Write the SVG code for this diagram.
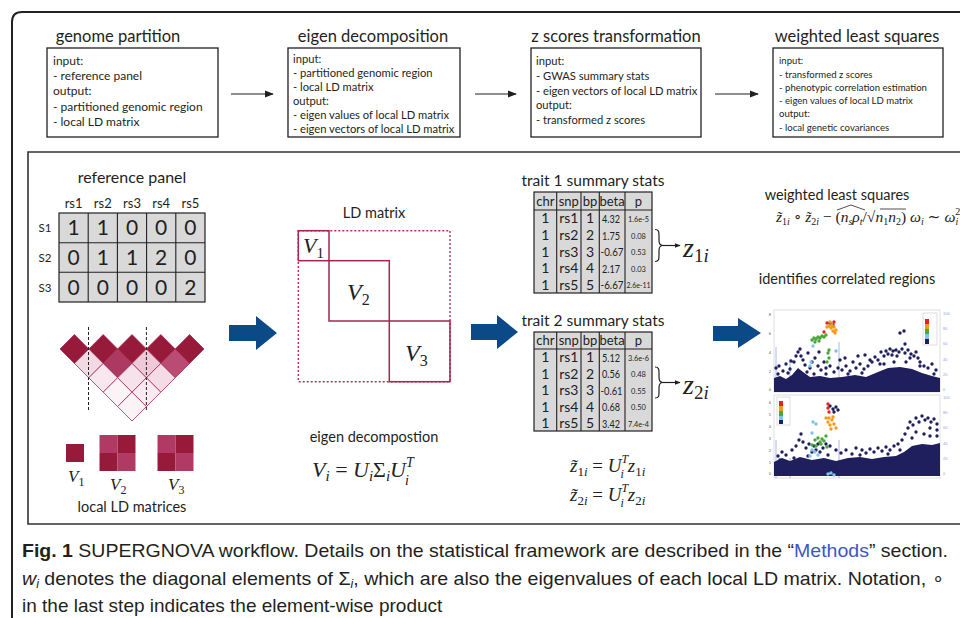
<svg xmlns="http://www.w3.org/2000/svg" width="960" height="618" viewBox="0 0 960 618">
<style>
.t{font-family:Lato,"Open Sans",sans-serif;fill:#231f20}
.m{font-family:"Liberation Serif","DejaVu Serif",serif;font-style:italic;fill:#222}
.n{font-style:normal}
.box{fill:#fff;stroke:#231f20;stroke-width:1.3}
.ln{stroke:#231f20;stroke-width:1.2;fill:none}
.big{fill:#0b4a87}
.dk{fill:#971a3b}
.di{stroke:#a3284f;stroke-width:0.8}
.vb{fill:none;stroke:#a8254e;stroke-width:1.5}
.tb{fill:#d9d9d9;stroke:#231f20;stroke-width:1.2}
.gl{stroke:#231f20;stroke-width:1.1}
.ax{font-family:"Liberation Sans",sans-serif;font-size:4px;fill:#555}
.axb{font-family:"Liberation Sans",sans-serif;font-size:4px;fill:#8fa3dc}
.cap{font-family:"Liberation Sans",Arial,sans-serif;font-size:19px;fill:#231f20}
</style>
<defs>
<marker id="ah" viewBox="0 0 10 10" refX="9" refY="5" markerWidth="9" markerHeight="9" markerUnits="userSpaceOnUse" orient="auto"><path d="M0,1 L10,5 L0,9 Z" fill="#231f20"/></marker>
<marker id="ah2" viewBox="0 0 10 10" refX="9" refY="5" markerWidth="6" markerHeight="6" markerUnits="userSpaceOnUse" orient="auto"><path d="M0,1 L10,5 L0,9 Z" fill="#231f20"/></marker>
</defs>
<rect width="960" height="618" fill="#fff"/>
<!-- frames -->
<path d="M12,618 L12,22 Q12,12 22,12 L960,12" fill="none" stroke="#222" stroke-width="2"/>
<path d="M960,152 L28,152 L28,524 L960,524" fill="none" stroke="#333" stroke-width="1.6"/>

<!-- top row nodes -->
<g id="genome-partition">
<text class="t" x="118" y="42" font-size="16.5" text-anchor="middle">genome partition</text>
<rect class="box" x="47" y="48" width="171" height="89"/>
<text class="t" font-size="12"><tspan x="53" y="65">input:</tspan><tspan x="53" y="80">- reference panel</tspan><tspan x="53" y="95">output:</tspan><tspan x="53" y="111">- partitioned genomic region</tspan><tspan x="53" y="126">- local LD matrix</tspan></text>
</g>
<g id="eigen-decomposition">
<text class="t" x="373" y="42" font-size="16.5" text-anchor="middle">eigen decomposition</text>
<rect class="box" x="288" y="48" width="172" height="89"/>
<text class="t" font-size="11.2"><tspan x="293" y="62.5">input:</tspan><tspan x="293" y="76.5">- partitioned genomic region</tspan><tspan x="293" y="90.5">- local LD matrix</tspan><tspan x="293" y="104.5">output:</tspan><tspan x="293" y="118.5">- eigen values of local LD matrix</tspan><tspan x="293" y="132.5">- eigen vectors of local LD matrix</tspan></text>
</g>
<g id="z-scores-transformation">
<text class="t" x="616" y="42" font-size="16.5" text-anchor="middle">z scores transformation</text>
<rect class="box" x="531" y="48" width="170" height="89"/>
<text class="t" font-size="11.2"><tspan x="536" y="65">input:</tspan><tspan x="536" y="80">- GWAS summary stats</tspan><tspan x="536" y="95">- eigen vectors of local LD matrix</tspan><tspan x="536" y="109">output:</tspan><tspan x="536" y="124">- transformed z scores</tspan></text>
</g>
<g id="weighted-least-squares">
<text class="t" x="857" y="42" font-size="16.5" text-anchor="middle">weighted least squares</text>
<rect class="box" x="773" y="48" width="170" height="89"/>
<text class="t" font-size="9.6"><tspan x="779" y="64">input:</tspan><tspan x="779" y="77.5">- transformed z scores</tspan><tspan x="779" y="91">- phenotypic correlation estimation</tspan><tspan x="779" y="104">- eigen values of local LD matrix</tspan><tspan x="779" y="117">output:</tspan><tspan x="779" y="131">- local genetic covariances</tspan></text>
</g>

<g id="connectors">
<line class="ln" x1="231" y1="94" x2="273" y2="94" marker-end="url(#ah)"/>
<line class="ln" x1="475" y1="94" x2="516" y2="94" marker-end="url(#ah)"/>
<line class="ln" x1="715" y1="94" x2="758" y2="94" marker-end="url(#ah)"/>
<path class="big" d="M229,325 H256 V316 L277,333 L256,350 V341 H229 Z"/>
<path class="big" d="M471,324 H497 V315 L518,332 L497,349 V340 H471 Z"/>
<path class="big" d="M713,326 H738 V318 L761,333 L738,348 V341 H713 Z"/>
<line class="ln" x1="663" y1="245.5" x2="680" y2="245.5" marker-end="url(#ah2)"/>
<line class="ln" x1="663" y1="382.5" x2="680" y2="382.5" marker-end="url(#ah2)"/>
</g>

<!-- reference panel -->
<g id="reference-panel">
<text class="t" x="132" y="183" font-size="16" text-anchor="middle">reference panel</text>
<g class="t" font-size="13" text-anchor="middle"><text x="73.6" y="208">rs1</text><text x="102.8" y="208">rs2</text><text x="132" y="208">rs3</text><text x="161.2" y="208">rs4</text><text x="190.4" y="208">rs5</text></g>
<g class="t" font-size="11.5" text-anchor="middle"><text x="45" y="232">S1</text><text x="45" y="262">S2</text><text x="45" y="292">S3</text></g>
<rect class="tb" x="59" y="213" width="146" height="89"/>
<path class="gl" d="M88.2,213V302M117.4,213V302M146.6,213V302M175.8,213V302M59,242.7H205M59,272.3H205"/>
<g class="t" font-size="21" text-anchor="middle">
<text x="73.6" y="235">1</text><text x="102.8" y="235">1</text><text x="132" y="235">0</text><text x="161.2" y="235">0</text><text x="190.4" y="235">0</text>
<text x="73.6" y="265">0</text><text x="102.8" y="265">1</text><text x="132" y="265">1</text><text x="161.2" y="265">2</text><text x="190.4" y="265">0</text>
<text x="73.6" y="295">0</text><text x="102.8" y="295">0</text><text x="132" y="295">0</text><text x="161.2" y="295">0</text><text x="190.4" y="295">2</text>
</g>
</g>

<g id="ld-triangle">
<g class="di">
<path class="dk" d="M74.4,334.6 88.8,349 74.4,363.4 60,349Z M103.2,334.6 117.6,349 103.2,363.4 88.8,349Z M132,334.6 146.4,349 132,363.4 117.6,349Z M160.8,334.6 175.2,349 160.8,363.4 146.4,349Z M189.6,334.6 204,349 189.6,363.4 175.2,349Z"/>
<path fill="#f3d9e4" d="M88.8,349 103.2,363.4 88.8,377.8 74.4,363.4Z"/>
<path fill="#ad3862" d="M117.6,349 132,363.4 117.6,377.8 103.2,363.4Z"/>
<path fill="#eecad9" d="M146.4,349 160.8,363.4 146.4,377.8 132,363.4Z"/>
<path fill="#b84c74" d="M175.2,349 189.6,363.4 175.2,377.8 160.8,363.4Z"/>
<path fill="#f8e7ef" d="M103.2,363.4 117.6,377.8 103.2,392.2 88.8,377.8Z"/>
<path fill="#f6e2eb" d="M132,363.4 146.4,377.8 132,392.2 117.6,377.8Z"/>
<path fill="#f3dce6" d="M160.8,363.4 175.2,377.8 160.8,392.2 146.4,377.8Z"/>
<path fill="#fcf3f7" d="M117.6,377.8 132,392.2 117.6,406.6 103.2,392.2Z"/>
<path fill="#f9ebf1" d="M146.4,377.8 160.8,392.2 146.4,406.6 132,392.2Z"/>
<path fill="#fcf3f7" d="M132,392.2 146.4,406.6 132,421 117.6,406.6Z"/>
</g>
<path d="M88.5,327V412M146.4,327V412" stroke="#222" stroke-width="1" stroke-dasharray="3,2"/>
</g>

<g id="local-ld-matrices">
<rect class="dk" x="66" y="444" width="18" height="18"/>
<rect fill="#b03a64" x="99.5" y="435" width="18" height="18"/><rect class="dk" x="117.5" y="435" width="18" height="18"/><rect class="dk" x="99.5" y="453" width="18" height="18"/><rect fill="#b03a64" x="117.5" y="453" width="18" height="18"/>
<rect fill="#b03a64" x="157.5" y="435" width="18" height="18"/><rect class="dk" x="175.5" y="435" width="18" height="18"/><rect class="dk" x="157.5" y="453" width="18" height="18"/><rect fill="#b03a64" x="175.5" y="453" width="18" height="18"/>
<text class="m" x="68" y="482" font-size="17">V<tspan class="n" font-size="12" dy="4">1</tspan></text>
<text class="m" x="110" y="490" font-size="17">V<tspan class="n" font-size="12" dy="4">2</tspan></text>
<text class="m" x="168" y="490" font-size="17">V<tspan class="n" font-size="12" dy="4">3</tspan></text>
<text class="t" x="132" y="512" font-size="14.5" text-anchor="middle">local LD matrices</text>
</g>

<g id="ld-matrix">
<text class="t" x="374" y="218" font-size="14.5" text-anchor="middle">LD matrix</text>
<rect x="298.3" y="230.7" width="151.7" height="151" fill="none" stroke="#c02a55" stroke-width="1.4" stroke-dasharray="2,2"/>
<rect class="vb" x="298.3" y="230.7" width="30.7" height="30"/>
<rect class="vb" x="329" y="260.7" width="60.3" height="60.3"/>
<rect class="vb" x="389.3" y="321" width="60.7" height="60.7"/>
<text class="m" x="303" y="253" font-size="22">V<tspan class="n" font-size="15" dy="5">1</tspan></text>
<text class="m" x="347" y="300" font-size="24">V<tspan class="n" font-size="16" dy="5">2</tspan></text>
<text class="m" x="405" y="361" font-size="24">V<tspan class="n" font-size="16" dy="5">3</tspan></text>
</g>

<g id="eigen-decompostion">
<text class="t" x="374" y="442" font-size="14.5" text-anchor="middle">eigen decompostion</text>
<text class="m" x="312" y="477" font-size="22">V<tspan font-size="15" dy="4">i</tspan><tspan class="n" dy="-4"> = </tspan>U<tspan font-size="15" dy="4">i</tspan><tspan class="n" dy="-4">Σ</tspan><tspan font-size="15" dy="4">i</tspan><tspan dy="-4">U</tspan><tspan font-size="14" dy="-10">T</tspan><tspan font-size="14" dx="-8" dy="18">i</tspan></text>
</g>

<!-- trait 1 -->
<g id="trait1">
<text class="t" x="593" y="186" font-size="15.5" text-anchor="middle">trait 1 summary stats</text>
<rect class="tb" x="534" y="192" width="118" height="101"/>
<path class="gl" d="M556.7,192V293M581,192V293M599.3,192V293M625,192V293M534,210H652"/>
<g class="t" font-size="13" text-anchor="middle"><text x="545.3" y="206">chr</text><text x="568.8" y="206">snp</text><text x="590.1" y="206">bp</text><text x="612" y="206">beta</text><text x="638.5" y="206">p</text></g>
<g class="t" font-size="14" text-anchor="middle">
<text x="545.3" y="223">1</text><text x="545.3" y="240">1</text><text x="545.3" y="256.5">1</text><text x="545.3" y="273">1</text><text x="545.3" y="290">1</text>
<text x="568.8" y="223">rs1</text><text x="568.8" y="240">rs2</text><text x="568.8" y="256.5">rs3</text><text x="568.8" y="273">rs4</text><text x="568.8" y="290">rs5</text>
<text x="590.1" y="223">1</text><text x="590.1" y="240">2</text><text x="590.1" y="256.5">3</text><text x="590.1" y="273">4</text><text x="590.1" y="290">5</text>
</g>
<g class="t" font-size="11.5"><text x="602" y="223" textLength="18" lengthAdjust="spacingAndGlyphs">4.32</text><text x="602" y="239.5" textLength="18" lengthAdjust="spacingAndGlyphs">1.75</text><text x="600.5" y="256" textLength="23" lengthAdjust="spacingAndGlyphs">-0.67</text><text x="602" y="272.5" textLength="18" lengthAdjust="spacingAndGlyphs">2.17</text><text x="600.5" y="289" textLength="23" lengthAdjust="spacingAndGlyphs">-6.67</text></g>
<g class="t" font-size="7.5" text-anchor="middle"><text x="638.5" y="222" textLength="21" lengthAdjust="spacingAndGlyphs">1.6e-5</text><text x="638.5" y="238.5">0.08</text><text x="638.5" y="255">0.53</text><text x="638.5" y="271.5">0.03</text><text x="638.5" y="288" textLength="24" lengthAdjust="spacingAndGlyphs">2.6e-11</text></g>
<path class="ln" d="M655,229.5 C659,229.5 659,232 659,236 L659,240.5 C659,244 661,245.5 663,245.5 C661,245.5 659,247 659,250.5 L659,255 C659,259 659,261.5 655,261.5"/>
<text class="m" x="683" y="257" font-size="28">z<tspan class="n" font-size="19" dy="5">1</tspan><tspan font-size="19">i</tspan></text>
</g>

<!-- trait 2 -->
<g id="trait2">
<text class="t" x="593" y="326" font-size="15.5" text-anchor="middle">trait 2 summary stats</text>
<rect class="tb" x="534" y="332" width="118" height="99"/>
<path class="gl" d="M556.7,332V431M581,332V431M599.3,332V431M625,332V431M534,349H652"/>
<g class="t" font-size="13" text-anchor="middle"><text x="545.3" y="345">chr</text><text x="568.8" y="345">snp</text><text x="590.1" y="345">bp</text><text x="612" y="345">beta</text><text x="638.5" y="345">p</text></g>
<g class="t" font-size="14" text-anchor="middle">
<text x="545.3" y="362">1</text><text x="545.3" y="378.5">1</text><text x="545.3" y="395">1</text><text x="545.3" y="411.5">1</text><text x="545.3" y="428">1</text>
<text x="568.8" y="362">rs1</text><text x="568.8" y="378.5">rs2</text><text x="568.8" y="395">rs3</text><text x="568.8" y="411.5">rs4</text><text x="568.8" y="428">rs5</text>
<text x="590.1" y="362">1</text><text x="590.1" y="378.5">2</text><text x="590.1" y="395">3</text><text x="590.1" y="411.5">4</text><text x="590.1" y="428">5</text>
</g>
<g class="t" font-size="11.5"><text x="602" y="361.5" textLength="18" lengthAdjust="spacingAndGlyphs">5.12</text><text x="602" y="378" textLength="18" lengthAdjust="spacingAndGlyphs">0.56</text><text x="600.5" y="394.5" textLength="22" lengthAdjust="spacingAndGlyphs">-0.61</text><text x="602" y="411" textLength="18" lengthAdjust="spacingAndGlyphs">0.68</text><text x="602" y="427.5" textLength="18" lengthAdjust="spacingAndGlyphs">3.42</text></g>
<g class="t" font-size="7.5" text-anchor="middle"><text x="638.5" y="360.5" textLength="21" lengthAdjust="spacingAndGlyphs">3.6e-6</text><text x="638.5" y="377">0.48</text><text x="638.5" y="393.5">0.55</text><text x="638.5" y="410">0.50</text><text x="638.5" y="426.5" textLength="21" lengthAdjust="spacingAndGlyphs">7.4e-4</text></g>
<path class="ln" d="M655,367 C659,367 659,369.5 659,373 L659,377.5 C659,381 661,382.5 663,382.5 C661,382.5 659,384 659,387.5 L659,392 C659,396 659,398 655,398"/>
<text class="m" x="683" y="394" font-size="28">z<tspan class="n" font-size="19" dy="5">2</tspan><tspan font-size="19">i</tspan></text>
</g>

<g id="z-transform-eq">
<text class="m" x="570" y="472" font-size="19">z̃<tspan class="n" font-size="13" dy="4">1</tspan><tspan font-size="13">i</tspan><tspan class="n" dy="-4"> = </tspan>U<tspan font-size="12" dy="-9">T</tspan><tspan font-size="12" dx="-7" dy="15">i</tspan><tspan dx="4" dy="-6">z</tspan><tspan class="n" font-size="13" dy="4">1</tspan><tspan font-size="13">i</tspan></text>
<text class="m" x="570" y="501" font-size="19">z̃<tspan class="n" font-size="13" dy="4">2</tspan><tspan font-size="13">i</tspan><tspan class="n" dy="-4"> = </tspan>U<tspan font-size="12" dy="-9">T</tspan><tspan font-size="12" dx="-7" dy="15">i</tspan><tspan dx="4" dy="-6">z</tspan><tspan class="n" font-size="13" dy="4">2</tspan><tspan font-size="13">i</tspan></text>
</g>

<g id="wls-formula">
<text class="t" x="837" y="200" font-size="14.5" text-anchor="middle">weighted least squares</text>
<text class="m" x="776" y="222" font-size="15.5">z̃<tspan class="n" font-size="10" dy="3">1</tspan><tspan font-size="10">i</tspan><tspan class="n" dy="-3"> ∘ </tspan>z̃<tspan class="n" font-size="10" dy="3">2</tspan><tspan font-size="10">i</tspan><tspan class="n" dy="-3"> − (</tspan>n<tspan font-size="10" dy="3">s</tspan><tspan dy="-3">ρ</tspan><tspan font-size="10" dy="3">t</tspan><tspan class="n" dy="-3">/√</tspan>n<tspan class="n" font-size="10" dy="3">1</tspan><tspan dy="-3">n</tspan><tspan class="n" font-size="10" dy="3">2</tspan><tspan class="n" dy="-3">) </tspan>ω<tspan font-size="10" dy="3">i</tspan><tspan class="n" dy="-3"> ∼ </tspan>ω<tspan font-size="10" dy="3">i</tspan><tspan class="n" font-size="10" dx="-3" dy="-10">2</tspan></text>
<path d="M837,210 L851,205 L865,210" fill="none" stroke="#222" stroke-width="0.8"/>
<line x1="880" y1="209" x2="906" y2="209" stroke="#222" stroke-width="0.8"/>
</g>

<g id="correlated-regions">
<text class="t" x="847" y="284" font-size="14.5" text-anchor="middle">identifies correlated regions</text>
<!-- plot 1 -->
<rect x="774" y="310" width="166" height="82" fill="#fff" stroke="#c8c8c8" stroke-width="0.6"/>
<g class="ax" text-anchor="end"><text x="771" y="316">8</text><text x="771" y="335">6</text><text x="771" y="354">4</text><text x="771" y="373">2</text><text x="771" y="391">0</text></g>
<g class="axb"><text x="943" y="315">100</text><text x="943" y="330">80</text><text x="943" y="345">60</text><text x="943" y="361">40</text><text x="943" y="376">20</text><text x="943" y="391">0</text></g>
<path d="M776,392V347M790,392V359M839,392V342" stroke="#a9b8e6" stroke-width="1"/>
<path d="M774,392 V378 L780,376 L786,379 L792,375 L798,368 L803,372 L810,377 L820,376 L830,378 L842,377 L855,375 L866,377 L878,372 L888,368 L900,367 L912,369 L922,373 L932,376 L940,378 V392 Z" fill="#1e1f5c"/>
<path d="M776,368h0M779,366h0M783,371h0M786,364h0M790,369h0M794,362h0M796,356h0M798,352h0M800,349h0M801,356h0M803,360h0M805,365h0M807,372h0M810,368h0M812,362h0M815,358h0M818,366h0M821,370h0M824,362h0M826,368h0M830,366h0M834,372h0M838,368h0M842,370h0M846,366h0M850,371h0M853,362h0M856,368h0M860,364h0M864,369h0M868,366h0M872,362h0M875,357h0M878,360h0M881,352h0M884,356h0M886,351h0M888,354h0M890,349h0M893,351h0M896,350h0M899,352h0M902,349h0M905,353h0M908,350h0M911,354h0M914,356h0M916,352h0M918,358h0M920,362h0M924,366h0M928,368h0M932,364h0M936,370h0M900,333h0M904,331h0M905,344h0M858,356h0M865,355h0M808,353h0M819,352h0M791,361h0M840,360h0M845,358h0M892,355h0M897,356h0M910,358h0M880,364h0M870,360h0M830,323h0M833,325h0M778,374h0M788,373h0M798,372h0M814,374h0M826,374h0M848,374h0M862,373h0M884,364h0M894,362h0M906,362h0M920,366h0M934,374h0" stroke="#1e1f5c" stroke-width="3.4" stroke-linecap="round" fill="none"/>
<path d="M812,340h0M814,338h0M816,339h0M818,337h0M820,338h0M822,336h0M824,337h0M826,335h0M815,342h0M819,341h0M829,350h0M828,353h0M829,358h0M827,362h0" stroke="#4aa83a" stroke-width="3.4" stroke-linecap="round"/>
<path d="M813,346h0M836,351h0M811,362h0M810,366h0" stroke="#7fc4ea" stroke-width="3.4" stroke-linecap="round"/>
<path d="M829,326h0M831,328h0M834,327h0M836,330h0M833,331h0M835,333h0M830,322h0M832,325h0M827,327h0" stroke="#f29a1d" stroke-width="3.4" stroke-linecap="round"/>
<path d="M824,332h0M827,323h0M834,322h0" stroke="#e42320" stroke-width="3.4" stroke-linecap="round"/>
<rect x="923" y="313" width="14" height="32" fill="#fff" stroke="#bbb" stroke-width="0.5"/>
<rect x="925" y="319" width="4" height="5" fill="#e42320"/><rect x="925" y="324" width="4" height="5" fill="#f29a1d"/><rect x="925" y="329" width="4" height="5" fill="#4aa83a"/><rect x="925" y="334" width="4" height="5" fill="#7fc4ea"/><rect x="925" y="339" width="4" height="5" fill="#1e1f5c"/>
<!-- plot 2 -->
<rect x="774" y="395" width="166" height="83" fill="#fff" stroke="#c8c8c8" stroke-width="0.6"/>
<g class="ax" text-anchor="end"><text x="771" y="404">6</text><text x="771" y="416">5</text><text x="771" y="428">4</text><text x="771" y="440">3</text><text x="771" y="452">2</text><text x="771" y="464">1</text><text x="771" y="475">0</text></g>
<g class="axb"><text x="943" y="399">100</text><text x="943" y="414">80</text><text x="943" y="429">60</text><text x="943" y="445">40</text><text x="943" y="460">20</text><text x="943" y="475">0</text></g>
<path d="M776,478V440M790,478V458M839,478V440" stroke="#a9b8e6" stroke-width="1"/>
<path d="M774,476 V462 L782,458 L790,461 L800,457 L812,460 L824,458 L836,461 L848,458 L860,457 L872,459 L884,457 L896,456 L904,452 L912,446 L922,444 L932,445 L940,443 V476 Z" fill="#1e1f5c"/>
<path d="M778,456h0M782,452h0M786,455h0M792,450h0M796,446h0M799,440h0M801,434h0M803,442h0M806,448h0M809,444h0M812,452h0M816,450h0M820,452h0M836,450h0M841,453h0M846,450h0M852,454h0M856,448h0M862,450h0M866,453h0M870,449h0M874,452h0M878,448h0M882,451h0M886,447h0M890,450h0M894,446h0M898,444h0M902,440h0M905,434h0M908,428h0M910,422h0M913,425h0M916,418h0M919,422h0M922,416h0M925,420h0M928,418h0M931,422h0M934,419h0M937,424h0M916,432h0M924,434h0M930,436h0M930,428h0M912,438h0M830,406h0M833,409h0M836,407h0M838,410h0M834,412h0M814,446h0M818,444h0M823,448h0M826,444h0M830,446h0M780,460h0M794,458h0M808,456h0M828,455h0M860,455h0M888,454h0M900,450h0M937,436h0M937,430h0" stroke="#1e1f5c" stroke-width="3.4" stroke-linecap="round" fill="none"/>
<path d="M815,440h0M818,438h0M820,442h0M822,439h0M824,441h0M826,436h0M812,445h0M816,446h0M827,447h0M821,444h0" stroke="#4aa83a" stroke-width="3.4" stroke-linecap="round"/>
<path d="M813,422h0M812,450h0M815,452h0M818,455h0M810,456h0M828,474h0M831,473h0M834,475h0M812,433h0M816,424h0" stroke="#7fc4ea" stroke-width="3.4" stroke-linecap="round"/>
<path d="M826,418h0M828,422h0M830,425h0M832,420h0M834,424h0M836,428h0M831,429h0M833,417h0M829,418h0" stroke="#f29a1d" stroke-width="3.4" stroke-linecap="round"/>
<path d="M828,404h0M828,408h0M829,412h0" stroke="#e42320" stroke-width="3.4" stroke-linecap="round"/>
<rect x="777" y="397" width="13" height="28" fill="#fff" stroke="#bbb" stroke-width="0.5"/>
<rect x="779" y="401" width="4" height="5" fill="#e42320"/><rect x="779" y="406" width="4" height="5" fill="#f29a1d"/><rect x="779" y="411" width="4" height="5" fill="#4aa83a"/><rect x="779" y="416" width="4" height="4" fill="#7fc4ea"/><rect x="779" y="420" width="4" height="4" fill="#1e1f5c"/>
</g>

<g id="caption">
<text class="cap" x="22" y="557" textLength="926" lengthAdjust="spacingAndGlyphs"><tspan font-weight="bold">Fig. 1</tspan> SUPERGNOVA workflow. Details on the statistical framework are described in the “<tspan fill="#3a57c4">Methods</tspan>” section.</text>
<text class="cap" x="22" y="585" textLength="922" lengthAdjust="spacingAndGlyphs"><tspan font-style="italic">w<tspan font-size="12" dy="3">i</tspan></tspan><tspan dy="-3"> denotes the diagonal elements of Σ</tspan><tspan font-size="12" font-style="italic" dy="3">i</tspan><tspan dy="-3">, which are also the eigenvalues of each local LD matrix. Notation, ∘</tspan></text>
<text class="cap" x="22" y="612">in the last step indicates the element-wise product</text>
</g>
</svg>
